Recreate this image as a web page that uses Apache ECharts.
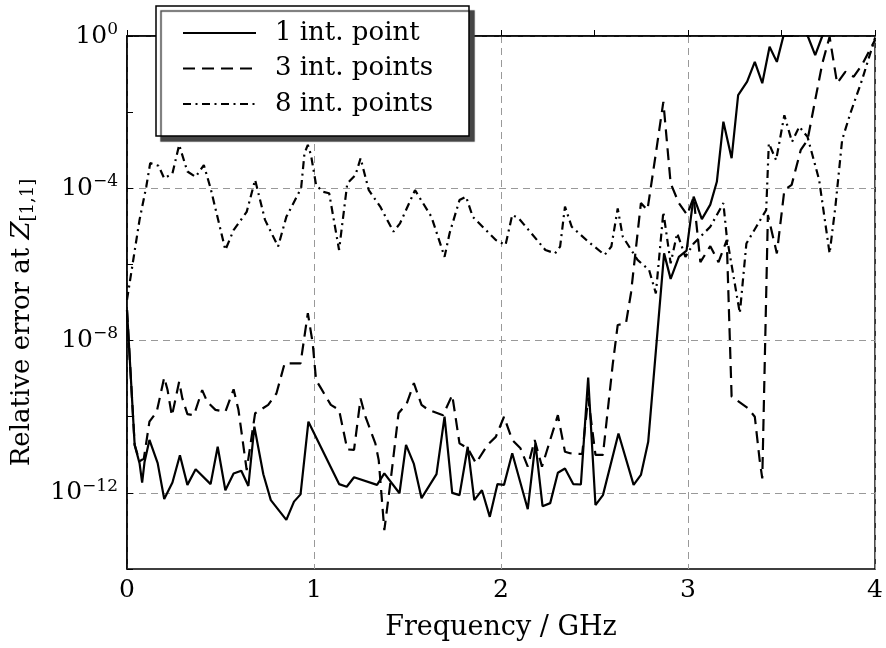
<!DOCTYPE html>
<html><head><meta charset="utf-8">
<script src="https://cdn.jsdelivr.net/npm/echarts@6/dist/echarts.min.js"></script>
<style>html,body{margin:0;padding:0;background:#fff}#c{width:886px;height:648px}</style>
</head><body><div id="c"></div><script>
// Frequency in GHz and log10 of relative error
const seriesNames = ['1 int. point', '3 int. points', '8 int. points'];

const freq1 = [0,0.041,0.067,0.081,0.094,0.120,0.164,0.199,0.243,0.283,0.323,0.367,0.447,0.485,0.526,0.570,0.611,0.649,0.681,0.729,0.769,0.852,0.893,0.928,0.970,1.134,1.175,1.214,1.337,1.376,1.457,1.492,1.534,1.575,1.655,1.698,1.739,1.778,1.822,1.857,1.898,1.940,1.981,2.016,2.060,2.143,2.184,2.222,2.263,2.304,2.342,2.386,2.427,2.466,2.505,2.545,2.628,2.709,2.748,2.787,2.872,2.907,2.951,2.992,3.030,3.074,3.119,3.154,3.189,3.233,3.268,3.316,3.357,3.397,3.436,3.475,3.510,3.559,3.600,3.640,3.680,3.718,3.800,3.900,4.000];
const log10Err1 = [-7.2,-10.74,-11.22,-11.73,-11.18,-10.61,-11.22,-12.16,-11.73,-11.01,-11.79,-11.38,-11.77,-10.79,-11.93,-11.49,-11.42,-11.82,-10.26,-11.51,-12.19,-12.71,-12.23,-12.04,-10.13,-11.77,-11.84,-11.59,-11.79,-11.49,-12.01,-10.74,-11.24,-12.14,-11.51,-10.0,-12.0,-12.06,-10.79,-12.19,-11.93,-12.63,-11.77,-11.79,-10.96,-12.43,-10.70,-12.35,-12.27,-11.47,-11.36,-11.77,-11.78,-8.97,-12.32,-12.06,-10.44,-11.79,-11.53,-10.66,-5.71,-6.38,-5.80,-5.64,-4.22,-4.81,-4.43,-3.83,-2.25,-3.21,-1.55,-1.20,-0.68,-1.24,-0.28,-0.68,0.0,0.0,0.4,0.0,-0.5,0.0,0.4,0.3,0.5];

const freq3 = [0,0.041,0.067,0.090,0.120,0.159,0.199,0.217,0.240,0.279,0.296,0.323,0.358,0.402,0.429,0.473,0.526,0.570,0.596,0.640,0.685,0.755,0.799,0.843,0.928,0.967,0.993,1.011,1.037,1.090,1.134,1.178,1.214,1.249,1.275,1.328,1.346,1.376,1.407,1.452,1.496,1.534,1.575,1.611,1.690,1.739,1.778,1.822,1.866,1.928,1.972,2.016,2.060,2.104,2.143,2.180,2.219,2.263,2.304,2.342,2.369,2.434,2.466,2.505,2.545,2.597,2.624,2.668,2.695,2.748,2.783,2.828,2.868,2.907,2.951,2.995,3.030,3.066,3.119,3.163,3.207,3.233,3.321,3.357,3.383,3.397,3.427,3.475,3.515,3.554,3.603,3.639,3.680,3.718,3.757,3.797,3.841,3.886,3.930,4.000];
const log10Err3 = [-7.2,-10.74,-11.17,-11.1,-10.13,-9.87,-8.97,-9.30,-9.98,-9.08,-9.52,-9.93,-9.96,-9.30,-9.61,-9.82,-9.87,-9.28,-9.82,-11.40,-9.91,-9.69,-9.39,-8.60,-8.60,-7.28,-8.07,-9.04,-9.25,-9.69,-9.82,-10.86,-10.87,-9.52,-10.0,-10.70,-11.14,-12.98,-11.79,-9.91,-9.65,-9.12,-9.69,-9.82,-9.96,-9.43,-10.70,-10.83,-11.22,-10.74,-10.53,-10.0,-10.61,-10.83,-11.31,-10.61,-11.31,-10.61,-9.96,-10.92,-10.96,-10.98,-9.5,-11.0,-11.0,-8.64,-7.59,-7.55,-6.75,-4.39,-4.57,-3.08,-1.73,-3.87,-4.39,-4.70,-4.23,-5.94,-5.52,-5.94,-5.36,-9.47,-9.78,-10.0,-11.14,-11.62,-4.70,-5.71,-4.05,-3.91,-2.99,-2.73,-1.68,-0.72,-0.02,-1.24,-0.94,-1.07,-0.76,-0.1];

const freq8 = [0,0.067,0.103,0.124,0.169,0.199,0.243,0.279,0.323,0.367,0.411,0.447,0.526,0.570,0.640,0.685,0.738,0.808,0.852,0.931,0.949,0.967,0.984,1.011,1.046,1.081,1.134,1.178,1.222,1.249,1.293,1.354,1.425,1.460,1.540,1.628,1.698,1.725,1.778,1.813,1.849,1.972,2.024,2.060,2.095,2.148,2.237,2.289,2.316,2.342,2.378,2.466,2.554,2.590,2.624,2.651,2.730,2.792,2.828,2.868,2.907,2.942,2.986,3.030,3.119,3.189,3.207,3.277,3.312,3.365,3.418,3.432,3.471,3.515,3.556,3.595,3.639,3.701,3.757,3.788,3.824,3.868,3.930,4.000];
const log10Err8 = [-6.93,-4.83,-3.96,-3.34,-3.41,-3.74,-3.61,-2.86,-3.56,-3.70,-3.39,-4.00,-5.62,-5.10,-4.62,-3.78,-4.83,-5.53,-4.75,-4.00,-3.08,-2.86,-3.13,-3.91,-4.09,-4.13,-5.62,-3.87,-3.65,-3.21,-4.05,-4.48,-5.14,-4.92,-4.05,-4.75,-5.80,-5.18,-4.31,-4.22,-4.75,-5.36,-5.49,-4.70,-4.79,-5.10,-5.62,-5.71,-5.53,-4.48,-5.01,-5.40,-5.75,-5.53,-4.53,-5.27,-5.88,-6.15,-6.76,-4.62,-5.97,-5.18,-5.80,-5.45,-5.01,-4.39,-5.27,-7.28,-5.45,-5.01,-4.57,-2.82,-3.26,-2.08,-2.78,-2.38,-2.65,-3.78,-5.71,-4.48,-2.73,-2.03,-1.16,-0.05];

const xTickLabels = ['0','1','2','3','4'];

const F = 'DejaVu Serif';
const pair = (xs, ys) => xs.map((x, i) => [x, ys[i]]);
const dashTypes = ['solid', [12, 7], [8, 4.5, 2, 4.5]];
const dataSets = [pair(freq1, log10Err1), pair(freq3, log10Err3), pair(freq8, log10Err8)];

const chart = echarts.init(document.getElementById('c'), null, {renderer: 'canvas'});
chart.setOption({
  animation: false,
  backgroundColor: '#fff',
  grid: {left: 127, right: 3, top: 36, bottom: 79, show: true, borderColor: '#000', borderWidth: 1.5, backgroundColor: 'transparent'},
  legend: {
    orient: 'vertical', left: 156, top: 6,
    data: seriesNames,
    itemWidth: 73, itemHeight: 14, itemGap: 5.5,
    padding: [12, 36, 17, 26],
    backgroundColor: '#fff', borderColor: '#000', borderWidth: 1.5,
    shadowColor: 'rgba(70,70,70,1)', shadowBlur: 1, shadowOffsetX: 5, shadowOffsetY: 5,
    itemStyle: {color: 'rgba(0,0,0,0)', borderColor: 'rgba(0,0,0,0)', borderWidth: 0, opacity: 0},
    textStyle: {fontFamily: F, fontSize: 26, color: '#000', lineHeight: 30, padding: [0, 0, 0, 14]},
    selectedMode: false
  },
  xAxis: {
    type: 'value', min: 0, max: 4, interval: 0.5,
    name: 'Frequency / GHz', nameLocation: 'middle', nameGap: 45,
    nameTextStyle: {fontFamily: F, fontSize: 27, color: '#000'},
    axisLine: {lineStyle: {color: '#000', width: 1.5}},
    axisTick: {inside: true, length: 6, lineStyle: {color: '#000', width: 1}},
    axisLabel: {fontFamily: F, fontSize: 25, color: '#000', margin: 9,
      formatter: v => Number.isInteger(v) ? xTickLabels[v] : ''},
    splitLine: {show: true, lineStyle: {color: ['#999', 'transparent'], type: [7, 5], width: 1}}
  },
  yAxis: {
    type: 'value', min: -14, max: 0, interval: 2,
    name: '{n|Relative error at }{z|Z}{s|[1,1]}', nameLocation: 'middle', nameRotate: 90, nameGap: 90,
    nameTextStyle: {padding: [0, 40, 0, 0], rich: {
      n: {fontFamily: F, fontSize: 26, color: '#000'},
      z: {fontFamily: F, fontSize: 26, color: '#000', fontStyle: 'italic'},
      s: {fontFamily: F, fontSize: 18, color: '#000', padding: [12, 0, 0, 0]}
    }},
    axisLine: {lineStyle: {color: '#000', width: 1.5}},
    axisTick: {inside: true, length: 6, lineStyle: {color: '#000', width: 1}},
    axisLabel: {margin: 9,
      formatter: v => {
        if (v % 4 !== 0) return '';
        return '{b|10}{e|' + (v === 0 ? '0' : '\u2212' + (-v)) + '}';
      },
      rich: {
        b: {fontFamily: F, fontSize: 25, color: '#000'},
        e: {fontFamily: F, fontSize: 17, color: '#000', padding: [0, 0, 13, 0]}
      }
    },
    splitLine: {show: true, lineStyle: {color: ['transparent', '#999'], type: [7, 5], width: 1}}
  },
  series: seriesNames.map((n, i) => ({
    name: n, type: 'line', data: dataSets[i], symbol: 'none', showSymbol: false,
    clip: true, z: 3 - i,
    lineStyle: {color: '#000', width: 2.2, type: dashTypes[i]},
    itemStyle: {color: '#000'}
  }))
});
</script></body></html>
